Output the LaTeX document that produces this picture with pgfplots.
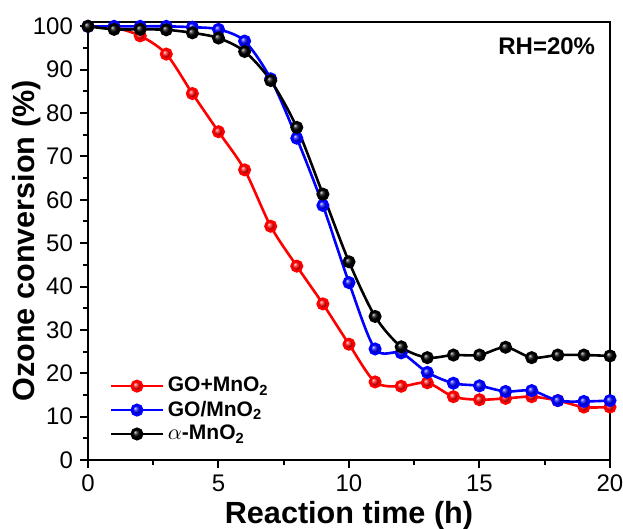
\documentclass[border=0pt]{standalone}
\usepackage{pgfplots}
\pgfplotsset{compat=1.18}
\usepackage{fontspec}
\setmainfont{Liberation Sans}
\begin{document}
\begin{tikzpicture}
\useasboundingbox (-44pt,-34.5pt) rectangle (267.5pt,230pt);
\begin{axis}[
  at={(0,0)}, anchor=south west,
  scale only axis, width=261pt, height=219pt,
  xmin=0, xmax=20, ymin=0, ymax=101,
  xtick={0,5,10,15,20}, minor xtick={2.5,7.5,12.5,17.5},
  ytick={0,10,...,100}, minor ytick={5,15,...,95},
  tick pos=left, tick align=outside,
  major tick length=4pt, minor tick length=2.5pt,
  every tick/.style={line width=1pt, black},
  axis line style={line width=1.2pt},
  /pgf/number format/assume math mode=true,
  tick label style={font=\fontsize{12}{14}\selectfont},
  xlabel={\bfseries Reaction time (h)},
  ylabel={\bfseries Ozone conversion (\%)},
  label style={font=\fontsize{15.3}{18}\selectfont},
  xlabel style={yshift=2pt},
  ylabel style={yshift=-11pt},
  legend style={at={(0.03,0.02)}, anchor=south west, draw=none, fill=none,
    font=\fontsize{10.5}{12}\selectfont\bfseries, row sep=-1pt},
  legend cell align=left,
  legend image code/.code={
    \draw[#1, mark=none, line width=1.3pt] (0cm,0cm) -- (0.9cm,0cm);
    \draw[#1, only marks] plot coordinates {(0.45cm,0cm)};},
  every axis plot/.append style={smooth, line width=1.3pt, mark=ball, mark size=2.6pt},
]
\addplot[red, mark options={ball color=red}] coordinates {
(0,100) (1,99.7) (2,97.8) (3,93.6) (4,84.5) (5,75.7) (6,66.9) (7,53.9) (8,44.7) (9,36) (10,26.7)
(11,18) (12,17) (13,17.8) (14,14.6) (15,13.9) (16,14.2) (17,14.6) (18,13.7) (19,12.2) (20,12.2)};
\addlegendentry{GO+MnO\textsubscript{2}}
\addplot[blue, mark options={ball color=blue}] coordinates {
(0,100) (1,100) (2,100) (3,100) (4,99.8) (5,99.3) (6,96.6) (7,87.9) (8,74.2) (9,58.7) (10,40.9)
(11,25.6) (12,24.7) (13,20.2) (14,17.7) (15,17.1) (16,15.8) (17,16.0) (18,13.7) (19,13.5) (20,13.7)};
\addlegendentry{GO/MnO\textsubscript{2}}
\addplot[black, mark options={ball color=black}] coordinates {
(0,100) (1,99.3) (2,99.3) (3,99.2) (4,98.5) (5,97.3) (6,94.2) (7,87.5) (8,76.7) (9,61.3) (10,45.7)
(11,33.1) (12,26.1) (13,23.6) (14,24.2) (15,24.2) (16,26.0) (17,23.6) (18,24.2) (19,24.2) (20,24.0)};
\addlegendentry{{\mdseries $\alpha$}-MnO\textsubscript{2}}
\node[anchor=east, font=\fontsize{12}{14}\selectfont\bfseries] at (axis cs:19.7,95.3) {RH=20\%};
\end{axis}
\end{tikzpicture}
\end{document}
